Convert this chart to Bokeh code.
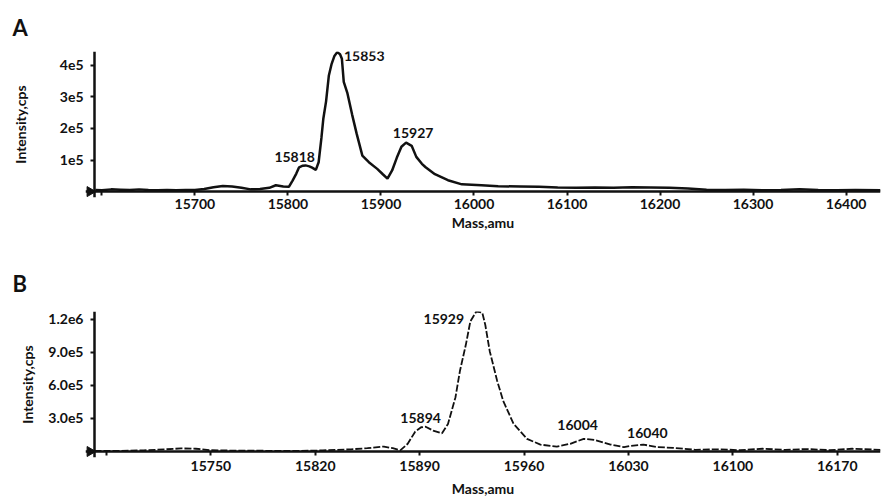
import math
from bokeh.plotting import figure
from bokeh.layouts import column
from bokeh.models import FixedTicker, ColumnDataSource, Range1d, LinearAxis
from bokeh.embed import file_html
from bokeh.resources import INLINE
from bokeh.core.properties import value

# ---------------- data ----------------
# Panel A: mass (amu) and intensity (cps)
mass_a = [15593, 15600, 15610, 15620, 15630, 15640, 15650, 15660, 15670, 15680, 15690, 15700,
          15710, 15720, 15730, 15740, 15750, 15760, 15770, 15780, 15787, 15795, 15801, 15805,
          15809, 15812, 15816, 15819, 15823, 15826, 15830, 15833, 15836, 15838, 15841, 15844,
          15847, 15850, 15853, 15856, 15858, 15860, 15864, 15869, 15874, 15880, 15887, 15896,
          15902, 15907, 15912, 15917, 15922, 15927, 15933, 15938, 15944, 15948, 15958, 15972,
          15987, 16008, 16026, 16050, 16070, 16090, 16110, 16130, 16150, 16170, 16190, 16210,
          16230, 16250, 16270, 16290, 16310, 16330, 16350, 16370, 16390, 16410, 16437]
int_a = [5e3, 4e3, 7e3, 6e3, 5e3, 7e3, 5e3, 4e3, 5e3, 4e3, 5e3, 5e3,
         8e3, 14e3, 18e3, 16e3, 12e3, 7e3, 8e3, 12e3, 20e3, 16e3, 15e3, 35e3,
         57e3, 77e3, 82e3, 83e3, 80e3, 76e3, 69e3, 93e3, 170e3, 230e3, 286e3, 368e3,
         405e3, 430e3, 442e3, 435e3, 421e3, 348e3, 311e3, 244e3, 182e3, 114e3, 93e3, 72e3,
         55e3, 41e3, 67e3, 107e3, 142e3, 155e3, 145e3, 110e3, 88e3, 77e3, 55e3, 36e3,
         23e3, 20e3, 17e3, 16e3, 15e3, 13e3, 12e3, 13e3, 12e3, 14e3, 13e3, 12e3,
         10e3, 6e3, 5e3, 6e3, 4e3, 5e3, 7e3, 5e3, 4e3, 5e3, 4e3]
peaks_a = [15818, 15853, 15927]
peak_int_a = [83e3, 442e3, 155e3]
xticks_a = [15600, 15700, 15800, 15900, 16000, 16100, 16200, 16300, 16400]
yticks_a = [1e5, 2e5, 3e5, 4e5]
ytick_labels_a = ["1e5", "2e5", "3e5", "4e5"]

# Panel B
mass_b = [15672, 15690, 15705, 15720, 15730, 15740, 15750, 15765, 15780, 15795, 15810, 15825,
          15844, 15855, 15866, 15872, 15877, 15882, 15887, 15891, 15894, 15899, 15905, 15909,
          15914, 15917, 15921, 15924, 15928, 15932, 15934, 15937, 15942, 15946, 15953, 15962,
          15971, 15982, 15991, 16000, 16007, 16018, 16027, 16031, 16040, 16049, 16060, 16075,
          16090, 16105, 16120, 16135, 16150, 16165, 16180, 16199]
int_b = [5e3, 6e3, 10e3, 20e3, 28e3, 25e3, 12e3, 8e3, 7e3, 6e3, 5e3, 10e3,
         20e3, 30e3, 45e3, 30e3, 10e3, 70e3, 180e3, 220e3, 225e3, 190e3, 165e3, 250e3,
         490e3, 730e3, 970e3, 1180e3, 1270e3, 1260e3, 1150e3, 910e3, 640e3, 460e3, 250e3, 115e3,
         62e3, 45e3, 70e3, 115e3, 105e3, 63e3, 40e3, 50e3, 63e3, 40e3, 33e3, 15e3,
         20e3, 12e3, 25e3, 15e3, 22e3, 12e3, 25e3, 15e3]
peaks_b = [15894, 15929, 16004, 16040]
peak_int_b = [225e3, 1270e3, 115e3, 63e3]
xticks_b = [15680, 15750, 15820, 15890, 15960, 16030, 16100, 16170]
yticks_b = [3e5, 6e5, 9e5, 1.2e6]
ytick_labels_b = ["3.0e5", "6.0e5", "9.0e5", "1.2e6"]

# ---------------- style ----------------
FONT = "Lato"
INK = "#111111"
dx_a = [-10, 27, 7]
dy_a = [-8, 4, -10]
dx_b = [-5, -34, -12, 4]
dy_b = [-9, 7, -14, -12]
AXIS_X = 94      # page x of the drawn y axis line
PAD = 9          # room left of the axis for the baseline triangle
PAD_Y = 6        # room below the baseline (frame extends below zero)
FIG_W = 886


def style_axis(ax):
    ax.axis_line_color = INK
    ax.axis_line_width = 2.5
    ax.major_tick_line_color = INK
    ax.major_tick_line_width = 2
    ax.major_tick_in = 0
    ax.major_tick_out = 4
    ax.minor_tick_line_color = None
    ax.major_label_text_font = FONT
    ax.major_label_text_font_size = "14px"
    ax.major_label_text_font_style = "bold"
    ax.major_label_text_color = INK
    ax.axis_label_text_font = FONT
    ax.axis_label_text_font_size = "14px"
    ax.axis_label_text_font_style = "bold"
    ax.axis_label_text_color = INK


def make_panel(letter, mass, inten, peaks, peak_int, xticks, yticks, ylabels,
               xr, y_end, height, top, plot_h, right, dash, lw, dx, dy, ystandoff,
               lab_standoff, xlab_standoff, title_standoff):
    frame_h = plot_h + PAD_Y
    bottom = height - top - frame_h
    left = AXIS_X - PAD
    frame_w = FIG_W - left - right
    ux = (xr[1] - xr[0]) / (frame_w - PAD)
    uy = y_end / plot_h
    x0 = xr[0]
    p = figure(width=FIG_W, height=height, output_backend="svg", toolbar_location=None,
               x_range=Range1d(x0 - PAD * ux, xr[1]),
               y_range=Range1d(-PAD_Y * uy, y_end),
               min_border_left=left, min_border_right=right,
               min_border_top=top, min_border_bottom=bottom)
    p.outline_line_color = None
    p.xgrid.visible = False
    p.ygrid.visible = False
    p.background_fill_color = "white"
    p.border_fill_color = "white"

    p.line(mass, inten, line_color=INK, line_width=lw, line_dash=dash)

    # right-pointing triangle at the start of the baseline
    p.scatter([x0 - 4.5 * ux], [0], marker="triangle", size=10, angle=-math.pi / 2,
              fill_color=INK, line_color=INK)

    src = ColumnDataSource(dict(x=peaks, y=peak_int, t=[str(v) for v in peaks], dx=dx, dy=dy))
    p.text(x="x", y="y", text="t", x_offset="dx", y_offset="dy", source=src,
           text_font=value(FONT), text_font_size="14px", text_font_style="bold",
           text_color=INK, text_align="center", text_baseline="middle")

    # axes drawn at the data origin (line + ticks only)
    ay2 = LinearAxis(fixed_location=x0, ticker=FixedTicker(ticks=yticks))
    p.add_layout(ay2, "left")
    ax2 = LinearAxis(fixed_location=0, ticker=FixedTicker(ticks=xticks))
    p.add_layout(ax2, "below")

    for ax in (p.xaxis[0], p.yaxis[0], ax2, ay2):
        style_axis(ax)
    for ax, ticks in ((ax2, xticks), (ay2, yticks)):
        ax.major_label_text_alpha = 0
        ax.major_label_text_font_size = "1px"
        ax.major_label_overrides = {t: "" for t in ticks}

    xa = p.xaxis[0]
    xa.ticker = FixedTicker(ticks=xticks)
    xa.major_label_overrides = {xticks[0]: ""}
    xa.axis_label = "Mass,amu"
    xa.axis_line_color = None
    xa.major_tick_line_color = None
    xa.major_tick_out = 0
    xa.major_label_standoff = lab_standoff
    xa.axis_label_standoff = xlab_standoff

    ya = p.yaxis[0]
    ya.ticker = FixedTicker(ticks=yticks)
    ya.major_label_overrides = {t: l for t, l in zip(yticks, ylabels)}
    ya.axis_label = "Intensity,cps"
    ya.axis_line_color = None
    ya.major_tick_line_color = None
    ya.major_tick_out = 0
    ya.major_label_standoff = 2
    ya.axis_label_standoff = ystandoff

    p.title.text = letter
    p.title.align = "left"
    p.title.offset = -(left - 12)
    p.title.text_font = FONT
    p.title.text_font_size = "22px"
    p.title.text_font_style = "bold"
    p.title.text_color = INK
    p.title.standoff = title_standoff
    return p


pa = make_panel("A", mass_a, int_a, peaks_a, peak_int_a, xticks_a, yticks_a, ytick_labels_a,
                (15592, 16437), 4.44e5, 236, 49, 142, 1, "solid", 2.5, dx_a, dy_a, 28,
                1, 2, 22)
pb = make_panel("B", mass_b, int_b, peaks_b, peak_int_b, xticks_b, yticks_b, ytick_labels_b,
                (15672, 16199), 1.27e6, 264, 75, 140, 6, "7 2", 1.8, dx_b, dy_b, 9,
                3, 6, 30)
layout = column(pa, pb, spacing=0)
open("out.html", "w").write(file_html(layout, INLINE))
